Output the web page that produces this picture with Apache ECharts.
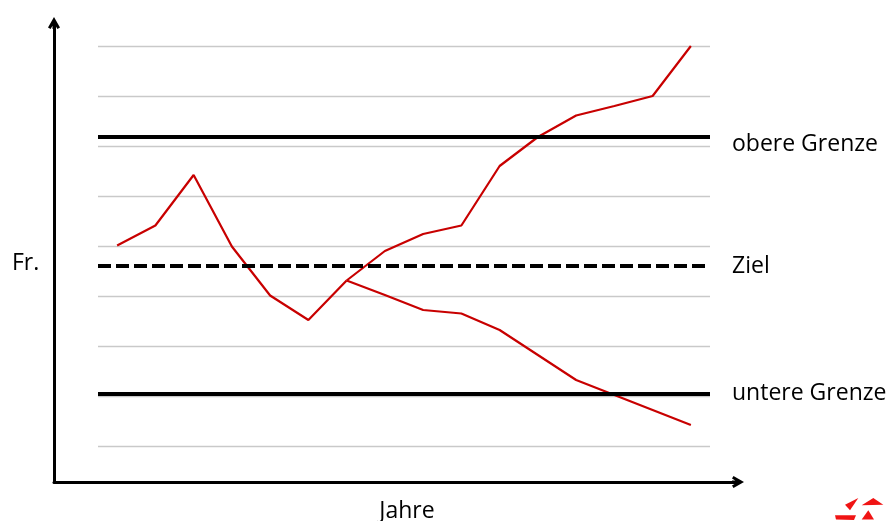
<!DOCTYPE html>
<html>
<head>
<meta charset="utf-8">
<script src="https://cdn.jsdelivr.net/npm/echarts@6/dist/echarts.min.js"></script>
<style>
html,body{margin:0;padding:0;background:#fff;}
#chart{width:888px;height:521px;}
</style>
</head>
<body>
<div id="chart"></div>
<script>
// ---- data ----
const jahre = ['1','2','3','4','5','6','7','8','9','10','11','12','13','14','15','16'];
const verlaufBisher = [4.01, 4.41, 5.42, 3.99, 3.01, 2.52, 3.31];           // years 1-7
const verlaufOben   = [3.31, 3.90, 4.24, 4.41, 5.60, 6.18, 6.61, 6.80, 7.00, 8.00]; // years 7-16
const verlaufUnten  = [3.31, 3.02, 2.72, 2.65, 2.32, 1.82, 1.32, 1.02, 0.72, 0.42]; // years 7-16
const grenzNamen = ['obere Grenze', 'Ziel', 'untere Grenze'];
const grenzWerte = [6.18, 3.60, 1.05];
const yTicks = [0, 1, 2, 3, 4, 5, 6, 7, 8];

const FONT = 'Open Sans';
const RED = '#c80000';

function pad(before, arr) {
  const out = [];
  for (let i = 0; i < before; i++) out.push(null);
  return out.concat(arr);
}

const chart = echarts.init(document.getElementById('chart'), null, {renderer: 'canvas'});

const arrowPath = 'path://M6,0 L12,10.5 L9.4,12 L7.5,8.7 L7.5,12 L4.5,12 L4.5,8.7 L2.6,12 L0,10.5 Z';

const lineStyles = [
  {color: '#000', width: 4, type: 'solid'},
  {color: '#000', width: 4, type: [13, 5]},
  {color: '#000', width: 4, type: 'solid'}
];
const labelVAlign = ['top', 'middle', 'middle'];
const labelLineHeight = [14, 23, 23];

const option = {
  animation: false,
  backgroundColor: '#fff',
  grid: [
    {left: 98, right: 178, top: 46, bottom: 75},
    {left: 54, right: 150, top: 23, bottom: 39}
  ],
  xAxis: [
    {
      gridIndex: 0, type: 'category', data: jahre, boundaryGap: true,
      axisLine: {show: false}, axisTick: {show: false}, axisLabel: {show: false},
      splitLine: {show: false}
    },
    {
      gridIndex: 1, type: 'value', min: 0, max: 1,
      axisLine: {show: true, onZero: false, symbol: ['none', arrowPath], symbolSize: [13, 12],
                 lineStyle: {color: '#000', width: 3}},
      axisTick: {show: false}, axisLabel: {show: false}, splitLine: {show: false}
    }
  ],
  yAxis: [
    {
      gridIndex: 0, type: 'value', min: yTicks[0], max: yTicks[yTicks.length - 1], interval: 1,
      axisLine: {show: false}, axisTick: {show: false}, axisLabel: {show: false},
      splitLine: {show: true, lineStyle: {color: '#c9c9c9', width: 1.3}}
    },
    {
      gridIndex: 1, type: 'value', min: 0, max: 1,
      axisLine: {show: true, onZero: false, symbol: ['none', arrowPath], symbolSize: [13, 12],
                 lineStyle: {color: '#000', width: 3}},
      axisTick: {show: false}, axisLabel: {show: false}, splitLine: {show: false}
    }
  ],
  series: [
    {
      name: 'Grenzen', type: 'line', xAxisIndex: 0, yAxisIndex: 0,
      data: [], z: 2,
      markLine: {
        silent: true, symbol: 'none', animation: false,
        data: grenzWerte.map((v, i) => ({
          name: grenzNamen[i], yAxis: v,
          lineStyle: lineStyles[i],
          label: {
            show: true, position: 'end', distance: 22, formatter: grenzNamen[i],
            color: '#000', fontFamily: FONT, fontSize: 23,
            verticalAlign: labelVAlign[i], lineHeight: labelLineHeight[i]
          }
        }))
      }
    },
    {
      name: 'Verlauf', type: 'line', xAxisIndex: 0, yAxisIndex: 0, z: 3,
      data: verlaufBisher, showSymbol: false, symbol: 'none',
      lineStyle: {color: RED, width: 2.2}
    },
    {
      name: 'Verlauf oben', type: 'line', xAxisIndex: 0, yAxisIndex: 0, z: 3,
      data: pad(6, verlaufOben), showSymbol: false, symbol: 'none',
      lineStyle: {color: RED, width: 2.2}
    },
    {
      name: 'Verlauf unten', type: 'line', xAxisIndex: 0, yAxisIndex: 0, z: 3,
      data: pad(6, verlaufUnten), showSymbol: false, symbol: 'none',
      lineStyle: {color: RED, width: 2.2}
    }
  ],
  graphic: [
    {type: 'text', left: 12, top: 252, style: {text: 'Fr.', font: '23px "Open Sans"', fill: '#000'}},
    {type: 'text', x: 407, y: 511, style: {text: 'Jahre', font: '23px "Open Sans"', fill: '#000', align: 'center', verticalAlign: 'middle'}},
    {type: 'polygon', shape: {points: [[845,504.7],[858.3,498],[850,510.3]]}, style: {fill: '#f01414'}},
    {type: 'polygon', shape: {points: [[873.3,498],[883.3,504.7],[861.7,505.3]]}, style: {fill: '#f01414'}},
    {type: 'polygon', shape: {points: [[835,515.3],[856,515.3],[854,520],[836,519.6]]}, style: {fill: '#f01414'}},
    {type: 'polygon', shape: {points: [[868.3,510.3],[874,519.5],[861.7,519.5]]}, style: {fill: '#f01414'}}
  ]
};

chart.setOption(option);
</script>
</body>
</html>
